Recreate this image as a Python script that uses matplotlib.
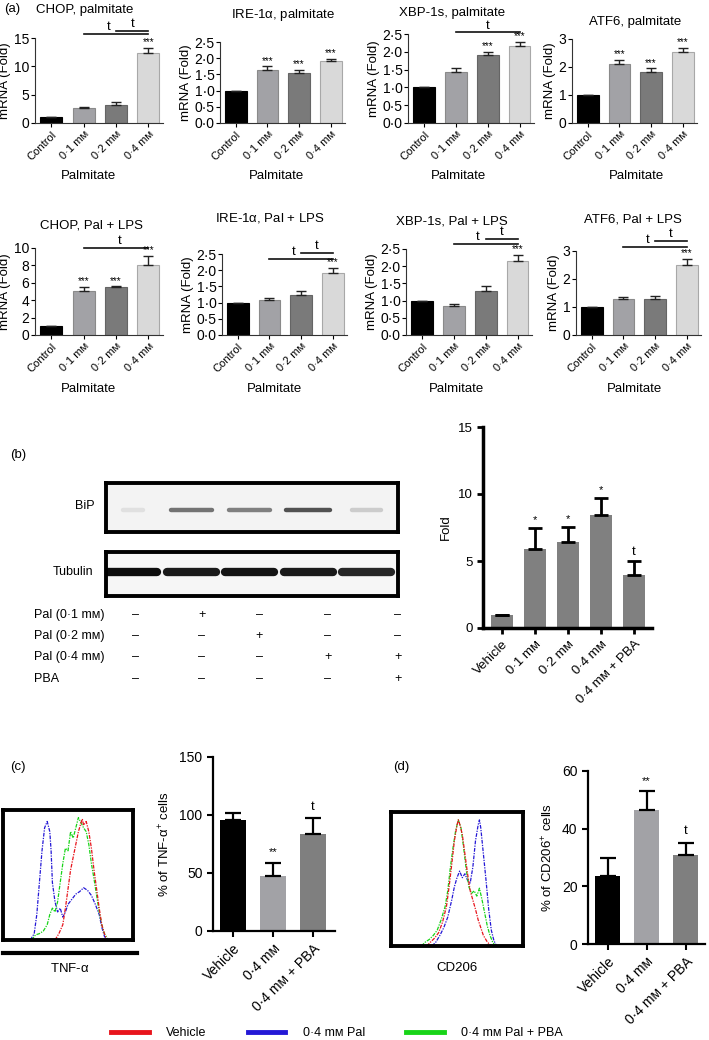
import matplotlib.pyplot as plt
import numpy as np
from matplotlib.lines import Line2D
from matplotlib.ticker import FuncFormatter

plt.rcParams['font.family'] = ['Liberation Sans', 'DejaVu Sans']
plt.rcParams['font.size'] = 9
plt.rcParams['mathtext.default'] = 'regular'

W, H = 709, 1040
fig = plt.figure(figsize=(W / 100, H / 100), dpi=100)


def px_axes(l, t, r, b):
    return fig.add_axes([l / W, 1 - b / H, (r - l) / W, (b - t) / H])


def px_text(x, y, s, **kw):
    fig.text(x / W, 1 - y / H, s, **kw)


# ---------------- data ----------------
# (a) mRNA fold change
doses = ['Control', '0·1 mᴍ', '0·2 mᴍ', '0·4 mᴍ']
dose_colors = ['#000000', '#a2a2a6', '#7a7a7a', '#d9d9d9']
dose_edges = ['#000000', '#8a8a8a', '#656565', '#a8a8a8']

chop_pal = [1.0, 2.6, 3.2, 12.3]
chop_pal_err = [0, 0.25, 0.45, 0.9]
chop_pal_sig = ['', '', '', '***']
ire_pal = [1.0, 1.65, 1.55, 1.92]
ire_pal_err = [0, 0.1, 0.1, 0.06]
ire_pal_sig = ['', '***', '***', '***']
xbp_pal = [1.0, 1.43, 1.9, 2.15]
xbp_pal_err = [0, 0.11, 0.1, 0.13]
xbp_pal_sig = ['', '', '***', '***']
atf6_pal = [1.0, 2.1, 1.82, 2.52]
atf6_pal_err = [0, 0.16, 0.13, 0.15]
atf6_pal_sig = ['', '***', '***', '***']

chop_lps = [1.0, 5.1, 5.5, 8.1]
chop_lps_err = [0, 0.4, 0.08, 1.0]
chop_lps_sig = ['', '***', '***', '***']
ire_lps = [1.0, 1.07, 1.25, 1.9]
ire_lps_err = [0, 0.08, 0.1, 0.17]
ire_lps_sig = ['', '', '', '***']
xbp_lps = [1.0, 0.85, 1.28, 2.14]
xbp_lps_err = [0, 0.05, 0.13, 0.19]
xbp_lps_sig = ['', '', '', '***']
atf6_lps = [1.0, 1.28, 1.3, 2.5]
atf6_lps_err = [0, 0.07, 0.1, 0.22]
atf6_lps_sig = ['', '', '', '***']

# comparison brackets: (from bar, to bar, height, label x)
chop_pal_br = [(1, 3, 15.7, 1.78), (2, 3, 16.3, 2.5)]
ire_pal_br = []
xbp_pal_br = [(1, 3, 2.55, 2.0)]
atf6_pal_br = []
chop_lps_br = [(1, 3, 10.05, 2.1)]
ire_lps_br = [(1, 3, 2.35, 1.75), (2, 3, 2.53, 2.5)]
xbp_lps_br = [(1, 3, 2.65, 1.75), (2, 3, 2.8, 2.5)]
atf6_lps_br = [(1, 3, 3.14, 1.75), (2, 3, 3.36, 2.5)]

# (b) BiP western blot
lanes = [0, 1, 2, 3, 4]
bip_band = [0.12, 0.55, 0.5, 0.68, 0.2]
bip_halfwidth = [0.17, 0.35, 0.35, 0.37, 0.25]
tub_band = [0.95, 0.9, 0.92, 0.9, 0.85]
treat_rows = ['Pal (0·1 mᴍ)', 'Pal (0·2 mᴍ)', 'Pal (0·4 mᴍ)', 'PBA']
treat_signs = [['–', '+', '–', '–', '–'],
               ['–', '–', '+', '–', '–'],
               ['–', '–', '–', '+', '+'],
               ['–', '–', '–', '–', '+']]
b_labels = ['Vehicle', '0·1 mᴍ', '0·2 mᴍ', '0·4 mᴍ', '0·4 mᴍ + PBA']
bip_fold = [1.0, 5.9, 6.45, 8.45, 3.95]
bip_err = [0, 1.55, 1.1, 1.25, 1.05]
bip_sig = ['', '*', '*', '*', 't']

# (c), (d) flow cytometry
cd_labels = ['Vehicle', '0·4 mᴍ', '0·4 mᴍ + PBA']
cd_colors = ['#000000', '#a2a2a6', '#7f7f7f']
tnf_pct = [96, 47, 84]
tnf_err = [6, 12, 13]
tnf_sig = ['', '**', 't']
cd206_pct = [23.5, 46.5, 30.8]
cd206_err = [6.5, 6.5, 4.4]
cd206_sig = ['', '**', 't']

tnf_veh_x = [40, 43, 46, 48, 50, 52, 54, 56, 58, 60, 61, 62, 64, 66, 68, 70, 72, 74, 76, 78, 80]
tnf_veh_y = [0, 5, 12, 25, 40, 55, 65, 75, 85, 92, 95, 90, 93, 85, 72, 55, 40, 25, 12, 5, 0]
tnf_pal_x = [21, 24, 26, 28, 30, 32, 34, 36, 37, 38, 40, 42, 44, 46, 48, 50, 53, 56, 59, 62, 65, 68, 71, 74, 76, 78, 80]
tnf_pal_y = [0, 5, 20, 45, 70, 88, 93, 85, 70, 45, 30, 22, 25, 18, 22, 28, 32, 36, 38, 41, 39, 35, 28, 20, 10, 3, 0]
tnf_pba_x = [22, 25, 28, 31, 34, 36, 38, 40, 42, 44, 46, 48, 50, 52, 54, 56, 58, 60, 62, 64, 66, 68, 70, 72, 74, 76, 78, 81]
tnf_pba_y = [0, 4, 5, 7, 12, 20, 25, 22, 30, 45, 60, 72, 70, 85, 80, 88, 96, 92, 88, 85, 75, 60, 48, 35, 22, 12, 5, 0]

cd_veh_x = [27, 30, 33, 36, 39, 42, 44, 46, 48, 50, 51, 52, 54, 56, 58, 60, 62, 64, 66, 68, 70, 73, 76]
cd_veh_y = [0, 3, 6, 10, 18, 30, 45, 62, 80, 92, 96, 93, 85, 70, 55, 42, 35, 28, 20, 14, 8, 3, 0]
cd_pal_x = [31, 34, 37, 40, 43, 46, 48, 50, 52, 54, 56, 58, 60, 62, 64, 66, 67, 68, 70, 72, 74, 76, 78, 80]
cd_pal_y = [0, 3, 8, 14, 22, 35, 45, 52, 57, 52, 55, 50, 48, 60, 80, 92, 96, 90, 70, 50, 28, 12, 4, 0]
cd_pba_x = [23, 26, 29, 32, 35, 38, 41, 43, 45, 47, 49, 51, 53, 55, 57, 59, 61, 63, 65, 67, 69, 71, 73, 75, 77, 79]
cd_pba_y = [0, 3, 5, 8, 12, 20, 30, 42, 60, 75, 88, 96, 90, 75, 58, 45, 40, 42, 38, 44, 35, 25, 15, 8, 3, 0]

hist_colors = ['#e8141c', '#2418d6', '#18d418']
legend_labels = ['Vehicle', '0·4 mᴍ Pal', '0·4 mᴍ Pal + PBA']


def dot_fmt(dec):
    return FuncFormatter(lambda v, p: f'{v:.{dec}f}'.replace('.', '·'))


# ---------------- (a) ----------------
a_vals = [chop_pal, ire_pal, xbp_pal, atf6_pal, chop_lps, ire_lps, xbp_lps, atf6_lps]
a_errs = [chop_pal_err, ire_pal_err, xbp_pal_err, atf6_pal_err,
          chop_lps_err, ire_lps_err, xbp_lps_err, atf6_lps_err]
a_sigs = [chop_pal_sig, ire_pal_sig, xbp_pal_sig, atf6_pal_sig,
          chop_lps_sig, ire_lps_sig, xbp_lps_sig, atf6_lps_sig]
a_brs = [chop_pal_br, ire_pal_br, xbp_pal_br, atf6_pal_br,
         chop_lps_br, ire_lps_br, xbp_lps_br, atf6_lps_br]
a_titles = ['CHOP, palmitate', 'IRE-1$\\alpha$, palmitate', 'XBP-1s, palmitate', 'ATF6, palmitate',
            'CHOP, Pal + LPS', 'IRE-1$\\alpha$, Pal + LPS', 'XBP-1s, Pal + LPS', 'ATF6, Pal + LPS']
a_ymax = [15, 2.5, 2.5, 3, 10, 2.5, 2.5, 3]
a_ystep = [5, 0.5, 0.5, 1, 2, 0.5, 0.5, 1]
a_dec = [0, 1, 1, 0, 0, 1, 1, 0]
# layout in pixels: box (l, top of ymax, r, zero line), title centre, xlabel centre
a_box = [(35, 38, 163, 123), (220, 42, 345, 123), (408, 34, 534, 123), (572, 39, 697, 123),
         (35, 248, 163, 335), (222, 254, 347, 335), (406, 249, 532, 335), (576, 251, 701, 335)]
a_title_pos = [(85, 10), (283, 15), (452, 13), (635, 22),
               (91, 226), (270, 218), (452, 222), (633, 220)]
a_xlab_pos = [(89, 176), (276, 176), (458, 176), (637, 176),
              (89, 389), (275, 389), (457, 389), (635, 389)]

for k in range(8):
    ax = px_axes(*a_box[k])
    x = np.arange(4)
    ax.bar(x, a_vals[k], 0.68, color=dose_colors, edgecolor=dose_edges, linewidth=0.8, zorder=2)
    ax.errorbar(x, a_vals[k], yerr=[np.zeros(4), a_errs[k]], fmt='none', ecolor='#222222',
                elinewidth=1.0, capsize=3.5, capthick=1.0, zorder=3)
    for i in range(4):
        if a_sigs[k][i]:
            ax.annotate(a_sigs[k][i], (i, a_vals[k][i] + a_errs[k][i]), xytext=(0, 0.5),
                        textcoords='offset points', ha='center', va='bottom', fontsize=7)
    for (i0, i1, yb, tx) in a_brs[k]:
        ax.plot([i0, i1], [yb, yb], color='#111111', lw=1.2, clip_on=False)
        ax.annotate('t', (tx, yb), xytext=(0, 0.5), textcoords='offset points',
                    ha='center', va='bottom', fontsize=9.5, annotation_clip=False)
    ax.set_xlim(-0.5, 3.45)
    ax.set_ylim(0, a_ymax[k])
    ax.set_yticks(np.arange(0, a_ymax[k] + 1e-6, a_ystep[k]))
    ax.yaxis.set_major_formatter(dot_fmt(a_dec[k]))
    ax.set_xticks(x)
    ax.set_xticklabels(doses, rotation=45, ha='right', rotation_mode='anchor', fontsize=8)
    ax.tick_params(axis='y', labelsize=10, length=3, width=0.8, pad=1)
    ax.tick_params(axis='x', length=3, width=0.8, pad=1.5)
    for s in ['top', 'right']:
        ax.spines[s].set_visible(False)
    for s in ['left', 'bottom']:
        ax.spines[s].set_color('#333333')
    ax.set_ylabel('mRNA (Fold)', fontsize=9.5, labelpad=2)
    px_text(*a_title_pos[k], a_titles[k], ha='center', va='center', fontsize=9.5)
    px_text(*a_xlab_pos[k], 'Palmitate', ha='center', va='center', fontsize=9.5)

px_text(4, 9, '(a)', ha='left', va='center', fontsize=9.5)

# ---------------- (b) blot ----------------
px_text(10, 455, '(b)', ha='left', va='center', fontsize=9.5)
bip_ax = px_axes(106, 483, 398, 532)
tub_ax = px_axes(106, 552, 398, 596)
for bax, bg in [(bip_ax, '#f3f3f3'), (tub_ax, '#f6f6f6')]:
    bax.set_facecolor(bg)
    bax.set_xlim(-0.46, 4.54)
    bax.set_ylim(-1, 1)
    bax.set_xticks([])
    bax.set_yticks([])
    for s in bax.spines.values():
        s.set_linewidth(2.8)
for i in lanes:
    g = str(round(1 - bip_band[i], 2))
    bip_ax.hlines(-0.1, i - bip_halfwidth[i], i + bip_halfwidth[i], colors=g, lw=3.2, capstyle='round')
    g = str(round(1 - tub_band[i], 2))
    tub_ax.hlines(0.1, i - 0.42, i + 0.42, colors=g, lw=6, capstyle='round')
px_text(95, 506, 'BiP', ha='right', va='center', fontsize=9)
px_text(93, 572, 'Tubulin', ha='right', va='center', fontsize=9)

row_y = [615, 636, 657, 679]
col_x = [136, 202, 259, 328, 398]
for r, lab in enumerate(treat_rows):
    px_text(34, row_y[r], lab, ha='left', va='center', fontsize=9)
    for c in range(5):
        px_text(col_x[c], row_y[r], treat_signs[r][c], ha='center', va='center', fontsize=9)

# ---------------- (b) bar ----------------
ax = px_axes(483, 427, 652, 628)
xb = np.arange(5)
ax.bar(xb, bip_fold, 0.67, color='#808080', zorder=2)
ax.errorbar(xb, bip_fold, yerr=[np.zeros(5), bip_err], fmt='none', ecolor='black',
            elinewidth=2, capsize=5, capthick=2, zorder=3)
for i in range(5):
    if bip_sig[i]:
        fs = 8 if bip_sig[i] == '*' else 9.5
        ax.annotate(bip_sig[i], (i, bip_fold[i] + bip_err[i]), xytext=(0, 2),
                    textcoords='offset points', ha='center', va='bottom', fontsize=fs)
ax.set_xlim(-0.58, 4.55)
ax.set_ylim(0, 15)
ax.set_yticks([0, 5, 10, 15])
ax.set_xticks(xb)
ax.set_xticklabels(b_labels, rotation=45, ha='right', rotation_mode='anchor', fontsize=8.5)
ax.tick_params(axis='both', length=4, width=2, labelsize=9.5)
for s in ['top', 'right']:
    ax.spines[s].set_visible(False)
for s in ['left', 'bottom']:
    ax.spines[s].set_linewidth(2.5)
ax.set_ylabel('Fold', fontsize=9.5, labelpad=4)

# ---------------- (c) / (d) histograms ----------------
px_text(10, 767, '(c)', ha='left', va='center', fontsize=9.5)
px_text(393, 767, '(d)', ha='left', va='center', fontsize=9.5)
hist_sets = [
    ((3, 810, 133, 940), [(tnf_veh_x, tnf_veh_y), (tnf_pal_x, tnf_pal_y), (tnf_pba_x, tnf_pba_y)],
     'TNF-$\\alpha$', (70, 968)),
    ((391, 812, 523, 946), [(cd_veh_x, cd_veh_y), (cd_pal_x, cd_pal_y), (cd_pba_x, cd_pba_y)],
     'CD206', (457, 968)),
]
for box, curves, lab, lpos in hist_sets:
    hax = px_axes(*box)
    order = [1, 2, 0]
    for j in order:
        hax.plot(curves[j][0], curves[j][1], color=hist_colors[j], lw=0.9,
                 ls=(0, (3, 1, 1, 1)))
    hax.set_xlim(0, 100)
    hax.set_ylim(0, 102)
    hax.set_xticks([])
    hax.set_yticks([])
    for s in hax.spines.values():
        s.set_linewidth(2.8)
    px_text(*lpos, lab, ha='center', va='center', fontsize=9.5)

fig.add_artist(Line2D([3 / W, 137 / W], [1 - 953 / H] * 2, color='black', lw=3,
                      transform=fig.transFigure))

# ---------------- (c) / (d) bars ----------------
cd_sets = [((213, 757, 335, 931), tnf_pct, tnf_err, tnf_sig, 150, [0, 50, 100, 150],
            '% of TNF-$\\alpha^{+}$ cells', 2.55),
           ((588, 771, 705, 944), cd206_pct, cd206_err, cd206_sig, 60, [0, 20, 40, 60],
            '% of CD206$^{+}$ cells', 2.5)]
for box, vals, errs, sigs, ymax, ticks, ylab, xr in cd_sets:
    ax = px_axes(*box)
    xc = np.arange(3)
    ax.bar(xc, vals, 0.65, color=cd_colors, zorder=2)
    ax.errorbar(xc, vals, yerr=[np.zeros(3), errs], fmt='none', ecolor='black',
                elinewidth=1.6, capsize=6, capthick=1.6, zorder=3)
    for i in range(3):
        if sigs[i]:
            fs = 8 if sigs[i] == '**' else 9.5
            ax.annotate(sigs[i], (i, vals[i] + errs[i]), xytext=(0, 4),
                        textcoords='offset points', ha='center', va='bottom', fontsize=fs)
    ax.set_xlim(-0.5, xr)
    ax.set_ylim(0, ymax)
    ax.set_yticks(ticks)
    ax.set_xticks(xc)
    ax.set_xticklabels(cd_labels, rotation=45, ha='right', rotation_mode='anchor', fontsize=9)
    ax.tick_params(axis='both', length=4, width=1.5, labelsize=10)
    for s in ['top', 'right']:
        ax.spines[s].set_visible(False)
    for s in ['left', 'bottom']:
        ax.spines[s].set_linewidth(1.6)
    ax.set_ylabel(ylab, fontsize=9.5, labelpad=5)

# ---------------- legend ----------------
handles = [Line2D([], [], color=c, lw=3.5) for c in hist_colors]
fig.legend(handles, legend_labels, loc='center left', bbox_to_anchor=(111 / W, 1 - 1033 / H),
           ncol=3, frameon=False, handlelength=3.0, handletextpad=1.4, columnspacing=3.3,
           fontsize=9, borderpad=0, borderaxespad=0)

fig.savefig('out.png', dpi=100)
